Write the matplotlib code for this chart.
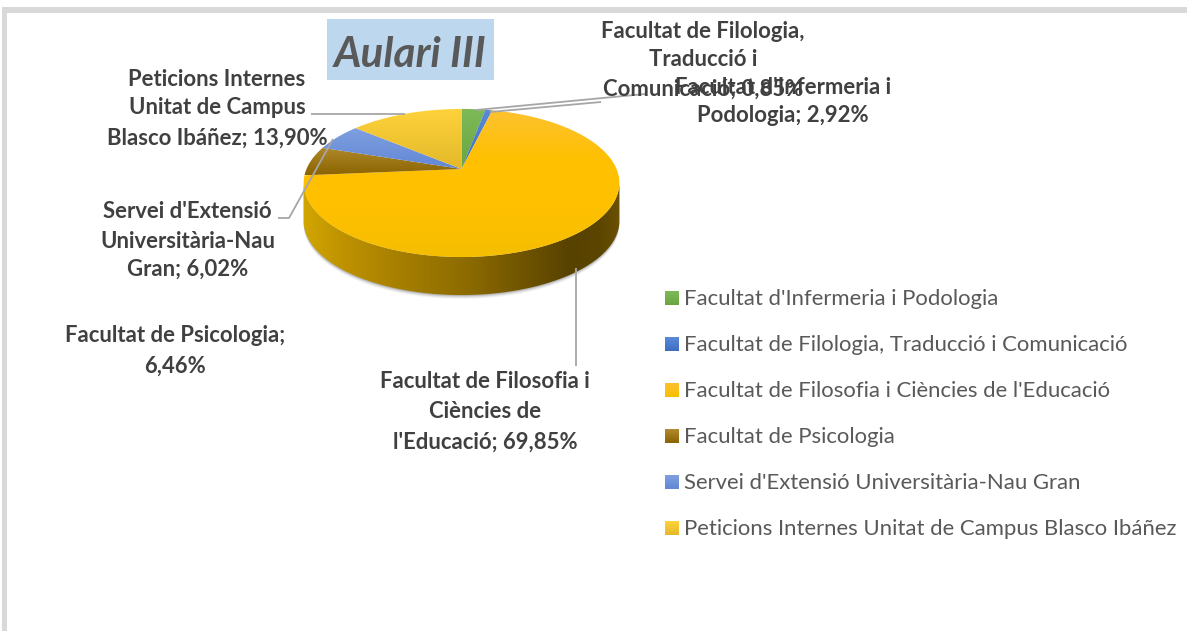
import numpy as np
import matplotlib
matplotlib.use("Agg")
import matplotlib.pyplot as plt
from matplotlib.colors import LinearSegmentedColormap, to_rgb
from matplotlib.patches import Polygon, Rectangle

plt.rcParams['font.family'] = ['Lato', 'DejaVu Sans']

categories = ["Facultat d'Infermeria i Podologia",
              "Facultat de Filologia, Traducció i Comunicació",
              "Facultat de Filosofia i Ciències de l'Educació",
              "Facultat de Psicologia",
              "Servei d'Extensió Universitària-Nau Gran",
              "Peticions Internes Unitat de Campus Blasco Ibáñez"]
values = [2.92, 0.85, 69.85, 6.46, 6.02, 13.90]
grad_top = ['#7FBA58', '#5C8BDA', '#FDC02F', '#B08A2E', '#7F9FDF', '#FFD33C']
grad_bot = ['#68A642', '#3E6CC0', '#F7BF00', '#8C6400', '#6288D6', '#E3B92A']
title = "Aulari III"
label_text = [(["Facultat d'Infermeria i", "Podologia; 2,92%"], 783, [88, 116]),
              (["Facultat de Filologia,", "Traducció i", "Comunicació; 0,85%"], 703, [31, 60, 89]),
              (["Facultat de Filosofia i", "Ciències de", "l'Educació; 69,85%"], 485, [382, 412, 442]),
              (["Facultat de Psicologia;", "6,46%"], 175, [336, 366]),
              (["Servei d'Extensió", "Universitària-Nau", "Gran; 6,02%"], 187.5, [211, 241, 269]),
              (["Peticions Internes", "Unitat de Campus", "Blasco Ibáñez; 13,90%"], 217, [79, 108, 138])]
rim_x = [303, 340, 400, 470, 530, 570, 600, 620]
rim_c = ['#D2A600', '#C09300', '#A67F00', '#8B6A00', '#6C5100', '#584200', '#5C4500', '#6A5000']

W, H = 1187, 631
fig = plt.figure(figsize=(W / 100, H / 100), dpi=100, facecolor='white')
ax = fig.add_axes([0, 0, 1, 1])
ax.axis('off')

# perspective disc: apex of the slices and the projected circle
AX, AY, KW, KH, KA, DEPTH = 461.5, 169, 155, 71.4, 0.189, 38


def proj(theta):
    u, v = np.sin(theta), np.cos(theta)
    d = 1 + KA * v
    return AX + KW * u / d, AY - KH * v / d


def v_gradient(poly, colours, y0, y1, zorder=3):
    cm = LinearSegmentedColormap.from_list('g', colours)
    im = ax.imshow(np.linspace(0, 1, 128)[:, None], cmap=cm, extent=[300, 625, y1, y0],
                   aspect='auto', zorder=zorder, interpolation='bilinear')
    p = Polygon(poly, closed=True, transform=ax.transData, fc='none', ec='none')
    ax.add_patch(p)
    im.set_clip_path(p)


# soft shadow and side of the disc
silh = np.radians(np.linspace(101, 259, 300))
xs, ys = proj(silh)
for off, a in [(4, .05), (3, .08), (2, .12), (1, .18)]:
    ax.fill(np.r_[xs, xs[::-1]], np.r_[ys, ys[::-1] + DEPTH + off], color='#404040', alpha=a, lw=0, zorder=1)
rim_poly = np.c_[np.r_[xs, xs[::-1]], np.r_[ys, ys[::-1] + DEPTH]]
cm_rim = LinearSegmentedColormap.from_list('r', [((x - 303) / 317, to_rgb(c)) for x, c in zip(rim_x, rim_c)])
im = ax.imshow(np.linspace(0, 1, 256)[None, :], cmap=cm_rim, extent=[303, 620, 300, 170],
               aspect='auto', zorder=2, interpolation='bilinear')
pp = Polygon(rim_poly, closed=True, transform=ax.transData, fc='none', ec='none')
ax.add_patch(pp)
im.set_clip_path(pp)

# top of the disc, one polygon per value
cum = np.r_[0, np.cumsum(values)]
for i, v in enumerate(values):
    th = np.radians(np.linspace(cum[i], cum[i + 1], max(4, int(v * 8))) * 3.6)
    px, py = proj(th)
    poly = np.c_[np.r_[AX, px], np.r_[AY, py]]
    if i == 2:
        v_gradient(poly, ['#FDC233', '#FFC000', '#FFC000', '#F5BE00'], 108, 259)
    else:
        v_gradient(poly, [grad_top[i], grad_bot[i]], py.min() - 1, max(py.max(), AY))

# frame
ax.add_patch(Rectangle((2, 7), W - 2, 5.5, fc='#D9D9D9', ec='none', zorder=0))
ax.add_patch(Rectangle((2, 7), 4.5, H - 7, fc='#D9D9D9', ec='none', zorder=0))

# leader lines
lc = '#A6A6A6'
for xy in [([311, 405], [114, 114]),
           ([278, 289, 333], [218, 218, 139]),
           ([575.5, 575.5], [268, 366]),
           ([476, 645], [110, 94]),
           ([490, 601], [112, 102])]:
    ax.plot(xy[0], xy[1], color=lc, lw=1.3, zorder=4, solid_capstyle='butt')

# title
ax.add_patch(Rectangle((327, 19), 167, 61, fc='#BDD7EE', ec='none', zorder=5))
ax.text(410, 55, title, fontsize=30.4, fontweight='bold', style='italic', color='#595959',
        ha='center', va='center', zorder=6)

# data labels
for lines, cx, ys_ in label_text:
    for s, y in zip(lines, ys_):
        ax.text(cx, y, s, fontsize=15.9, fontweight='bold', color='#404040',
                ha='center', va='center', zorder=7)

# legend
for i, c in enumerate(categories):
    y = 298 + 46 * i
    cm = LinearSegmentedColormap.from_list('l', [grad_top[i], grad_bot[i]])
    ax.imshow(np.linspace(0, 1, 32)[:, None], cmap=cm, extent=[665, 679, y + 7, y - 7],
              aspect='auto', zorder=5)
    ax.text(684, y + 1, c, fontsize=15.9, color='#595959', ha='left', va='center', zorder=7)

ax.set_xlim(0, W)
ax.set_ylim(H, 0)
fig.savefig('out.png', dpi=100)
